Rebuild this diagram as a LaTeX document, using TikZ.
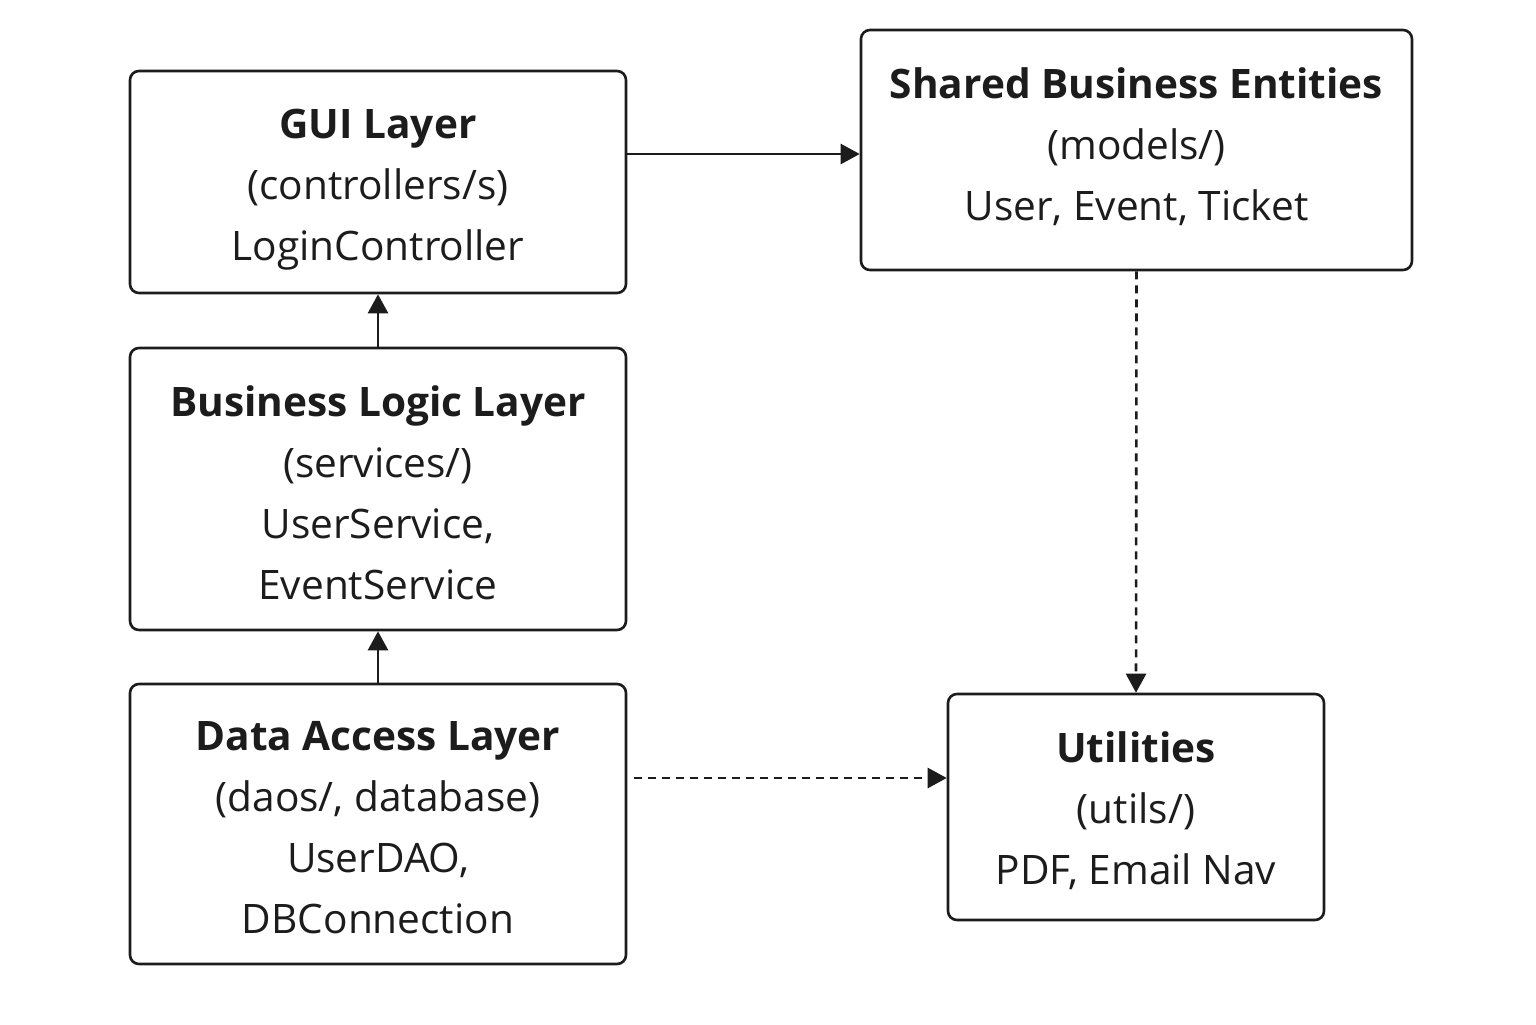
\documentclass[tikz,border=0pt]{standalone}
\usepackage{fontspec}
\setmainfont{Open Sans}
\usetikzlibrary{arrows.meta}
\definecolor{ink}{HTML}{1C1C1C}
\tikzset{
  layerbox/.style={draw=ink, line width=1.3pt, rounded corners=4.5pt, inner sep=0pt},
  layertext/.style={align=center, inner sep=0pt, text=ink, font=\fontsize{20.3}{30.5}\selectfont},
  arr/.style={draw=ink, line width=1.3pt, -{Triangle[length=9.5pt,width=10pt]}},
  darr/.style={arr, dash pattern=on 4pt off 3pt}
}
\begin{document}
\begin{tikzpicture}[x=0.5pt,y=-0.5pt]
\useasboundingbox (0,0) rectangle (1536,1024);
\fill[white] (0,0) rectangle (1536,1024);
\node[layerbox, minimum width=248pt, minimum height=111pt,
  label={[layertext, yshift=-4pt]center:{\textbf{GUI Layer}\\(controllers/s)\\LoginController}}] (gui) at (378,182) {};
\node[layerbox, minimum width=248pt, minimum height=141pt,
  label={[layertext, yshift=-2pt]center:{\textbf{Business Logic Layer}\\(services/)\\UserService,\\EventService}}] (bll) at (378,489) {};
\node[layerbox, minimum width=248pt, minimum height=140pt,
  label={[layertext, yshift=-2pt]center:{\textbf{Data Access Layer}\\(daos/, database)\\UserDAO,\\DBConnection}}] (dal) at (378,824) {};
\node[layerbox, minimum width=275.5pt, minimum height=120pt,
  label={[layertext, yshift=1.5pt]center:{\textbf{Shared Business Entities}\\(models/)\\User, Event, Ticket}}] (ent) at (1136.5,150) {};
\node[layerbox, minimum width=188pt, minimum height=113pt,
  label={[layertext, yshift=-2pt]center:{\textbf{Utilities}\\(utils/)\\PDF, Email Nav}}] (utl) at (1136,807) {};
\coordinate (dalr) at (634,778);
\draw[arr] (gui.east |- 0,154) -- (ent.west |- 0,154);
\draw[arr] (bll.north) -- (gui.south);
\draw[arr] (dal.north) -- (bll.south);
\draw[darr] (ent.south) -- (utl.north);
\draw[darr] (dalr) -- (utl.west |- dalr);
\end{tikzpicture}
\end{document}
